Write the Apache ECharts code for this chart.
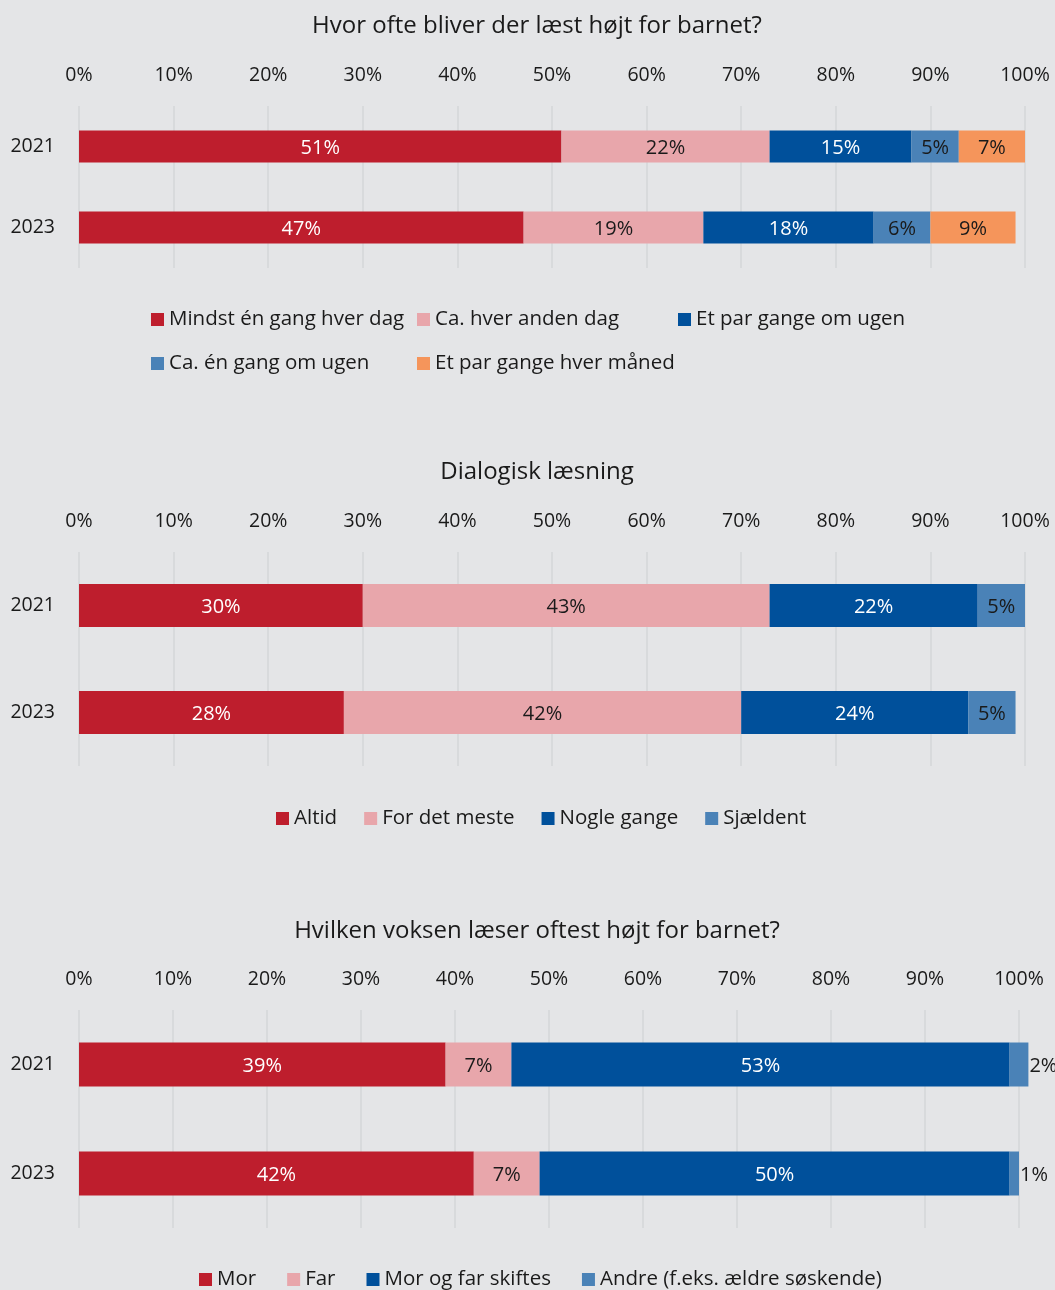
<!DOCTYPE html>
<html lang="da">
<head>
<meta charset="utf-8">
<title>Højtlæsning for barnet</title>
<script src="https://cdn.jsdelivr.net/npm/echarts@6/dist/echarts.min.js"></script>
<style>
  html, body { margin: 0; padding: 0; background: #e4e5e7; }
  #chart { width: 1055px; height: 1290px; }
</style>
</head>
<body>
<div id="chart"></div>
<script>
// Survey years (rows of every panel)
const years = ['2021', '2023'];

// Panel 1: how often the child is read aloud to
const freqTitle = 'Hvor ofte bliver der læst højt for barnet?';
const freqNames = ['Mindst én gang hver dag', 'Ca. hver anden dag', 'Et par gange om ugen', 'Ca. én gang om ugen', 'Et par gange hver måned'];
const freqDaily = [51, 47];
const freqEveryOtherDay = [22, 19];
const freqFewPerWeek = [15, 18];
const freqOncePerWeek = [5, 6];
const freqFewPerMonth = [7, 9];

// Panel 2: dialogic reading
const dialogTitle = 'Dialogisk læsning';
const dialogNames = ['Altid', 'For det meste', 'Nogle gange', 'Sjældent'];
const dialogAlways = [30, 28];
const dialogMostly = [43, 42];
const dialogSometimes = [22, 24];
const dialogRarely = [5, 5];

// Panel 3: which adult reads aloud most often
const readerTitle = 'Hvilken voksen læser oftest højt for barnet?';
const readerNames = ['Mor', 'Far', 'Mor og far skiftes', 'Andre (f.eks. ældre søskende)'];
const readerMother = [39, 42];
const readerFather = [7, 7];
const readerAlternate = [53, 50];
const readerOther = [2, 1];

// Percentage axis
const axisMin = 0;
const axisMax = 100;
const axisStep = 10;

const FONT = '"Open Sans", "Noto Sans", sans-serif';
const TEXT = '#1a1a1a';
const GRID_LINE = '#d5d6d8';

const RED = '#be1e2d';
const PINK = '#e8a6ab';
const NAVY = '#00509b';
const STEEL = '#4a82b7';
const ORANGE = '#f5955b';

function xAxisFor(gridIndex) {
  return {
    type: 'value', gridIndex: gridIndex, position: 'top',
    min: axisMin, max: axisMax, interval: axisStep,
    axisLine: { show: false }, axisTick: { show: false },
    axisLabel: { formatter: '{value}%', color: TEXT, fontFamily: FONT, fontSize: 19.5, margin: 21 },
    splitLine: { show: true, lineStyle: { color: GRID_LINE, width: 1.5 } }
  };
}

function yAxisFor(gridIndex) {
  return {
    type: 'category', gridIndex: gridIndex, data: years, inverse: true,
    axisLine: { show: false }, axisTick: { show: false },
    axisLabel: { color: TEXT, fontFamily: FONT, fontSize: 19.5, margin: 24 },
    splitLine: { show: false }
  };
}

function barSeries(name, values, color, labelColor, gridIndex, barWidth, extra) {
  const s = {
    type: 'bar', name: name, data: values,
    stack: 'panel' + gridIndex,
    xAxisIndex: gridIndex, yAxisIndex: gridIndex,
    barWidth: barWidth,
    itemStyle: { color: color },
    label: {
      show: true, position: 'inside', formatter: '{c}%', offset: [0, 1.5],
      color: labelColor, fontFamily: FONT, fontSize: 20
    },
    emphasis: { disabled: true },
    animation: false
  };
  return Object.assign(s, extra || {});
}

function titleAt(text, top) {
  return {
    text: text, left: 537, top: top, textAlign: 'center', padding: 0,
    textStyle: { color: TEXT, fontFamily: FONT, fontSize: 24, fontWeight: 'normal' }
  };
}

const legendText = { color: TEXT, fontFamily: FONT, fontSize: 20.5 };

function legendAt(names, left, top, gap) {
  return {
    data: names, left: left, top: top, orient: 'horizontal',
    icon: 'rect', itemWidth: 13, itemHeight: 13, itemGap: gap || 10,
    selectedMode: false, padding: 0, textStyle: legendText
  };
}

const series = [
  barSeries(freqNames[0], freqDaily, RED, '#ffffff', 0, 32),
  barSeries(freqNames[1], freqEveryOtherDay, PINK, TEXT, 0, 32),
  barSeries(freqNames[2], freqFewPerWeek, NAVY, '#ffffff', 0, 32),
  barSeries(freqNames[3], freqOncePerWeek, STEEL, TEXT, 0, 32),
  barSeries(freqNames[4], freqFewPerMonth, ORANGE, TEXT, 0, 32),

  barSeries(dialogNames[0], dialogAlways, RED, '#ffffff', 1, 43),
  barSeries(dialogNames[1], dialogMostly, PINK, TEXT, 1, 43),
  barSeries(dialogNames[2], dialogSometimes, NAVY, '#ffffff', 1, 43),
  barSeries(dialogNames[3], dialogRarely, STEEL, TEXT, 1, 43),

  barSeries(readerNames[0], readerMother, RED, '#ffffff', 2, 44, { clip: false }),
  barSeries(readerNames[1], readerFather, PINK, TEXT, 2, 44, { clip: false }),
  barSeries(readerNames[2], readerAlternate, NAVY, '#ffffff', 2, 44, { clip: false }),
  barSeries(readerNames[3], readerOther, STEEL, TEXT, 2, 44, {
    clip: false,
    label: { show: true, position: 'right', distance: 1, offset: [0, 1.5], formatter: '{c}%', color: TEXT, fontFamily: FONT, fontSize: 20 }
  })
];

const option = {
  backgroundColor: '#e4e5e7',
  animation: false,
  title: [
    titleAt(freqTitle, 14),
    titleAt(dialogTitle, 460),
    titleAt(readerTitle, 919)
  ],
  legend: [
    // first panel: two rows laid out in columns
    legendAt([freqNames[0]], 151, 309),
    legendAt([freqNames[1]], 417, 309),
    legendAt([freqNames[2]], 678, 309),
    legendAt([freqNames[3]], 151, 353),
    legendAt([freqNames[4]], 417, 353),
    legendAt(dialogNames, 276, 808, 27),
    legendAt(readerNames, 199, 1269, 31)
  ],
  grid: [
    { left: 79, right: 30, top: 106, height: 162 },
    { left: 79, right: 30, top: 552, height: 214 },
    { left: 79, right: 36, top: 1010, height: 218 }
  ],
  xAxis: [xAxisFor(0), xAxisFor(1), xAxisFor(2)],
  yAxis: [yAxisFor(0), yAxisFor(1), yAxisFor(2)],
  series: series
};

const chart = echarts.init(document.getElementById('chart'), null, { renderer: 'canvas' });
chart.setOption(option);
</script>
</body>
</html>
